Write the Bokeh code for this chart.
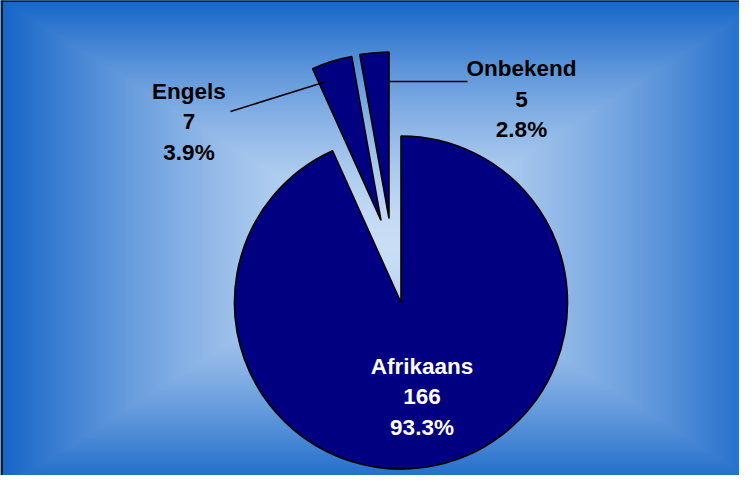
import numpy as np
from bokeh.plotting import figure
from bokeh.models import Range1d, ColumnDataSource, Span
from bokeh.core.properties import value
from bokeh.embed import file_html
from bokeh.resources import INLINE

# ---- data ----
categories = ["Afrikaans", "Engels", "Onbekend"]
counts = [166, 7, 5]
percent_labels = ["93.3%", "3.9%", "2.8%"]

# ---- layout (screen pixel coordinates of the page) ----
W, H = 739, 475
X0, Y0 = 8, 8
PIE_CX, PIE_CY, PIE_R = 408.5, 310.0, 166.5
EXPLODE = [(0, 0), (-20, -82), (-12, -84)]          # slice offsets (px)
LABEL_POS = [(429.5, 373.5), (196.5, 98.5), (529.0, 76.0)]  # first-line baseline
LABEL_COLORS = ["white", "black", "black"]
LINE_STEP = 30.5
LEADERS = [None, ((238, 119), (334, 89)), ((397, 89), (475, 89))]
FONT = "Liberation Sans"
FSIZE = "22.5px"

def sy(y):
    return -y

p = figure(width=W, height=H, output_backend="svg", toolbar_location=None,
           x_range=Range1d(X0, X0 + W), y_range=Range1d(-(Y0 + H), -Y0),
           min_border=0, x_axis_type=None, y_axis_type=None)
p.grid.visible = False
p.outline_line_color = None
p.background_fill_color = "#1464c8"
p.border_fill_color = "white"

# ---- background gradient (rectangular, light centre) ----
gx = np.arange(W) + X0 + 0.5
gy = (Y0 + H - 0.5) - np.arange(H)
GX, GY = np.meshgrid(gx, gy)
cx, cy, hw, hh = 392.0, 252.0, 384.0, 246.0
t = np.maximum(np.abs(GX - cx) / hw, np.abs(GY - cy) / hh)
t = np.clip(t, 0, 1) ** 1.5
c_in = np.array([202, 223, 246], dtype=float)
c_out = np.array([20, 100, 200], dtype=float)
img = np.zeros((H, W), dtype=np.uint32)
view = img.view(dtype=np.uint8).reshape((H, W, 4))
for k in range(3):
    view[:, :, k] = (c_in[k] + (c_out[k] - c_in[k]) * t).astype(np.uint8)
view[:, :, 3] = 255
p.image_rgba(image=[img], x=X0, y=-(Y0 + H), dw=W, dh=H)

# ---- border (left and top) ----
p.add_layout(Span(location=9.5, dimension="height", line_color="#0b1a2e", line_width=2))
p.add_layout(Span(location=-8.5, dimension="width", line_color="#0b1a2e", line_width=2))

# ---- pie ----
vals = np.array(counts, dtype=float)
frac = vals / vals.sum()
cum_end = np.cumsum(frac)
cum_start = cum_end - frac
start = np.pi / 2 - 2 * np.pi * cum_start
end = np.pi / 2 - 2 * np.pi * cum_end
xs = [PIE_CX + dx for dx, dy in EXPLODE]
ys = [sy(PIE_CY + dy) for dx, dy in EXPLODE]
src = ColumnDataSource(dict(x=xs, y=ys, start=start, end=end, cat=categories))
p.wedge(x="x", y="y", radius=PIE_R, start_angle="start", end_angle="end",
        direction="clock", source=src, fill_color="#000080",
        line_color="black", line_width=1.6)

# ---- leader lines ----
for ld in LEADERS:
    if ld is None:
        continue
    (x1, y1), (x2, y2) = ld
    p.line([x1, x2], [sy(y1), sy(y2)], line_color="black", line_width=1.5)

# ---- labels ----
for i, cat in enumerate(categories):
    lx, ly = LABEL_POS[i]
    lines = [cat, str(counts[i]), percent_labels[i]]
    for j, txt in enumerate(lines):
        p.text(x=[lx], y=[sy(ly + j * LINE_STEP)], text=[txt],
               text_align="center", text_baseline="alphabetic",
               text_font=value(FONT), text_font_style="bold",
               text_font_size=FSIZE, text_color=LABEL_COLORS[i])

open("out.html", "w").write(file_html(p, INLINE))
